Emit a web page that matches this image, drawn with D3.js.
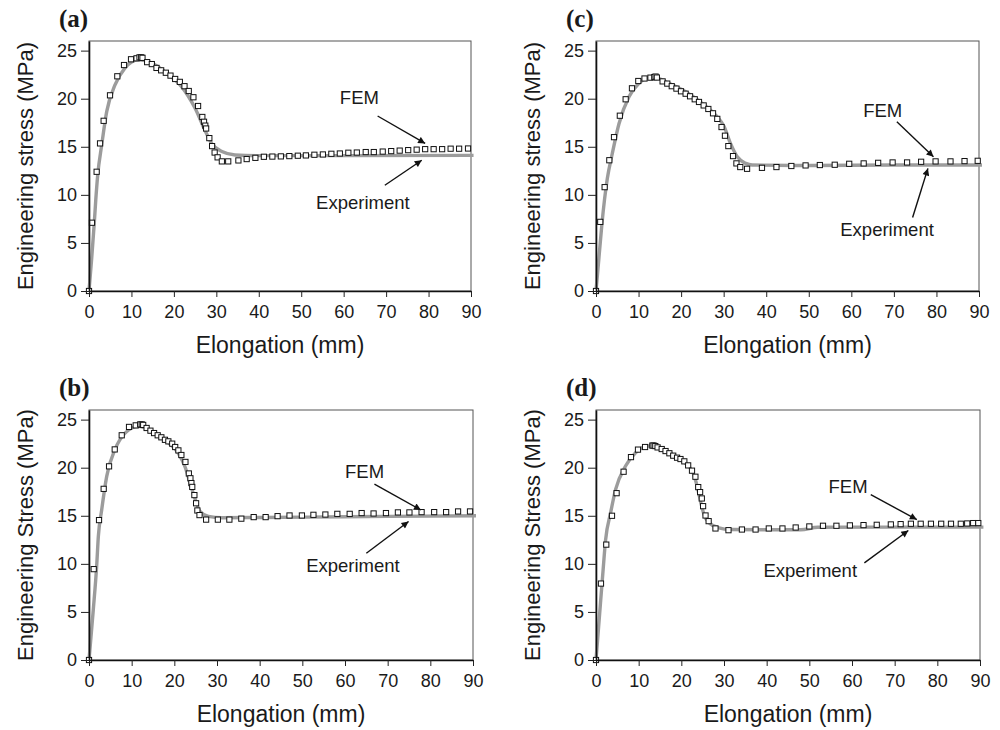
<!DOCTYPE html>
<html>
<head>
<meta charset="utf-8">
<script src="https://cdn.jsdelivr.net/npm/d3@7"></script>
<style>
  body { margin: 0; background: #fff; }
  svg { display: block; }
  text { fill: #1a1a1a; }
</style>
</head>
<body>
<script>
const width = 1000;
const height = 730;

const xTicks = [0, 10, 20, 30, 40, 50, 60, 70, 80, 90];
const yTicks = [0, 5, 10, 15, 20, 25];

// FEM = open squares, Experiment = grey curve  (elongation mm, stress MPa)
const femA = [[0,0],[0.7,7.1],[1.8,12.4],[2.6,15.35],[3.45,17.7],[4.95,20.35],[6.67,22.33],[8.25,23.5],[9.9,24.1],[11.2,24.2],[11.9,24.3],[12.3,24.3],[12.6,24.25],[13.7,23.8],[14.8,23.6],[15.9,23.2],[17.0,22.95],[18.1,22.7],[19.2,22.4],[20.3,22.05],[21.4,21.75],[22.5,21.3],[23.5,20.8],[24.6,20.15],[25.7,19.24],[26.7,18.1],[27.1,17.6],[27.4,17.2],[27.6,16.9],[28.35,15.9],[29.0,15.07],[29.6,14.4],[30.3,13.9],[31.3,13.48],[32.8,13.48],[35.2,13.58],[37.15,13.72],[39.2,13.85],[41.2,13.96],[43.2,13.98],[45.2,14.0],[47.2,14.03],[49.2,14.07],[51.1,14.1],[53.1,14.17],[55.1,14.2],[57.1,14.27],[59.1,14.3],[61.1,14.38],[63.1,14.4],[65.2,14.45],[67.1,14.45],[69.2,14.5],[71.2,14.55],[73.2,14.6],[75.2,14.65],[77.2,14.7],[79.2,14.75],[81.2,14.75],[83.2,14.75],[85.2,14.8],[87.2,14.8],[89.3,14.82]];
const expA = [[0,0],[0.6,3.2],[1.25,7.1],[1.6,9.5],[2.05,12.05],[3.0,15.2],[4.17,18.65],[6.1,21.4],[8.5,23.2],[11.6,24.05],[14.8,23.7],[18.7,22.5],[21.8,21.25],[25.0,19.0],[27.3,16.74],[28.9,15.35],[31.3,14.5],[34.4,14.15],[40,14.08],[60,14.08],[90.6,14.1]];

const femB = [[0,0],[1.1,9.45],[2.35,14.55],[3.44,17.8],[4.7,20.14],[6.03,21.9],[7.67,23.37],[9.38,24.24],[10.95,24.4],[12.0,24.5],[12.36,24.5],[12.7,24.45],[13.5,24.13],[14.4,23.85],[15.25,23.6],[16.1,23.37],[16.96,23.16],[17.8,22.9],[18.6,22.74],[19.5,22.5],[20.2,22.15],[20.95,21.8],[21.65,21.32],[22.6,20.6],[23.4,19.4],[23.77,18.9],[24.0,18.4],[24.2,18.0],[24.7,17.15],[25.1,16.3],[25.4,15.55],[25.9,15.07],[27.45,14.6],[30.2,14.6],[32.9,14.6],[35.7,14.7],[38.6,14.86],[41.4,14.86],[44.2,14.96],[47.0,15.03],[49.9,15.03],[52.6,15.1],[55.4,15.13],[58.2,15.2],[61.1,15.2],[63.9,15.28],[66.7,15.24],[69.6,15.28],[72.4,15.35],[75.1,15.35],[77.95,15.38],[80.9,15.38],[83.7,15.38],[86.5,15.45],[89.3,15.45]];
const expB = [[0,0],[1.0,5.2],[1.8,9.8],[2.19,12.85],[2.97,15.6],[4.15,19.1],[6.1,21.9],[8.45,23.6],[11.57,24.3],[14.7,23.8],[18.6,22.6],[20.95,21.5],[22.5,20.1],[23.7,18.4],[24.9,16.7],[26.0,15.45],[28.0,14.93],[31.1,14.8],[40,14.82],[60,14.9],[90.7,15.0]];

const femC = [[0,0],[1.0,7.19],[2.03,10.8],[3.13,13.6],[4.23,16.0],[5.6,18.23],[6.97,19.94],[8.45,21.08],[9.94,21.84],[11.4,22.1],[12.8,22.19],[13.7,22.25],[14.0,22.3],[14.3,22.2],[15.65,21.8],[16.75,21.57],[17.8,21.3],[18.9,21.05],[19.97,20.77],[21.06,20.52],[22.1,20.25],[23.2,19.94],[24.2,19.66],[25.3,19.3],[26.4,18.93],[27.5,18.48],[28.5,17.9],[29.5,17.05],[30.3,16.15],[31.1,15.07],[32.2,14.03],[33.0,13.27],[33.9,12.89],[35.5,12.71],[39.0,12.81],[42.4,12.89],[45.9,13.0],[49.25,13.06],[52.6,13.1],[56.1,13.13],[59.5,13.23],[62.9,13.27],[66.3,13.33],[69.7,13.37],[73.1,13.37],[76.4,13.44],[79.8,13.48],[83.3,13.48],[86.6,13.51],[89.7,13.54]];
const expC = [[0,0],[0.7,3.5],[1.4,7],[2.0,9.5],[2.66,11.7],[3.83,14.3],[5.4,17.4],[7.75,20.2],[10.1,21.6],[13.2,22.3],[17.15,21.6],[21.05,20.73],[25.0,19.5],[28.1,18.3],[30.1,17.1],[31.6,15.35],[33.2,13.96],[35.2,13.27],[36.7,13.1],[50,13.05],[70,13.1],[90.7,13.1]];

const femD = [[0,0],[1.17,7.95],[2.41,12.0],[3.75,15.0],[4.83,17.35],[6.47,19.58],[8.2,21.1],[9.84,21.88],[11.5,22.15],[13.2,22.3],[13.5,22.3],[13.9,22.25],[14.43,22.11],[15.4,21.94],[16.3,21.73],[17.2,21.5],[18.1,21.25],[19.0,21.04],[19.8,20.9],[20.7,20.66],[21.6,20.24],[22.5,19.69],[23.3,19.06],[23.96,17.98],[24.4,17.46],[24.8,16.8],[25.1,16.0],[25.67,15.03],[26.4,14.44],[28.0,13.68],[31.05,13.5],[34.2,13.57],[37.4,13.57],[40.5,13.68],[43.7,13.68],[46.8,13.78],[50.0,13.89],[53.2,13.96],[56.35,13.96],[59.5,14.0],[62.7,14.03],[65.8,14.06],[69.1,14.1],[71.4,14.13],[73.8,14.17],[76.1,14.17],[78.5,14.17],[80.9,14.17],[83.2,14.17],[85.5,14.17],[87.0,14.2],[88.4,14.24],[89.6,14.24]];
const expD = [[0,0],[0.8,4.5],[1.6,9],[2.25,12.5],[3.42,15.3],[4.6,17.74],[6.93,20.17],[9.27,21.56],[12.4,22.25],[16.3,21.73],[20.2,20.7],[22.55,19.65],[23.7,18.08],[24.5,16.5],[25.3,15.14],[26.5,14.27],[28.8,13.75],[31.5,13.57],[40,13.55],[48,13.55],[52,13.8],[70,13.82],[90.8,13.82]];

const panelTags = ["(a)", "(b)", "(c)", "(d)"];
const yTitles = ["Engineering stress (MPa)", "Engineering Stress (MPa)", "Engineering stress (MPa)", "Engineering Stress (MPa)"];
const xTitle = "Elongation (mm)";

const sans = "'Liberation Sans', Arial, sans-serif";
const serif = "'Liberation Serif', 'Times New Roman', serif";

// layout: plot box + where the labels / arrows sit (in data units)
const panels = [
  { tag: panelTags[0], yt: yTitles[0], fem: femA, exp: expA, left: 89, top: 41, w: 382, h: 250,
    femLabel: [59.1, 19.5], femArrow: [[68.0, 18.2], [79.2, 15.35]],
    expLabel: [53.5, 8.5], expArrow: [[69.7, 11.0], [78.4, 13.6]] },
  { tag: panelTags[1], yt: yTitles[1], fem: femB, exp: expB, left: 89, top: 410, w: 384, h: 250,
    femLabel: [60.0, 18.93], femArrow: [[66.9, 18.3], [77.8, 15.6]],
    expLabel: [50.9, 9.2], expArrow: [[65.0, 11.1], [74.9, 14.4]] },
  { tag: panelTags[2], yt: yTitles[2], fem: femC, exp: expC, left: 596, top: 41, w: 383, h: 250,
    femLabel: [62.8, 18.1], femArrow: [[70.7, 17.6], [79.3, 13.96]],
    expLabel: [57.4, 5.7], expArrow: [[74.4, 7.65], [78.0, 12.75]] },
  { tag: panelTags[3], yt: yTitles[3], fem: femD, exp: expD, left: 596, top: 410, w: 384, h: 250,
    femLabel: [54.5, 17.4], femArrow: [[64.4, 17.2], [75.2, 14.6]],
    expLabel: [39.25, 8.65], expArrow: [[62.9, 10.1], [73.2, 13.47]] }
];

const svg = d3.select(document.body).append("svg")
  .attr("width", width)
  .attr("height", height)
  .style("font-family", sans);

svg.append("defs").append("marker")
  .attr("id", "arrow")
  .attr("viewBox", "0 0 10 10")
  .attr("refX", 10).attr("refY", 5)
  .attr("markerWidth", 9).attr("markerHeight", 7)
  .attr("markerUnits", "userSpaceOnUse")
  .attr("orient", "auto")
  .append("path")
  .attr("d", "M0,0L10,5L0,10z")
  .attr("fill", "#111");

panels.forEach(p => {
  const x = d3.scaleLinear().domain([0, 90]).range([0, p.w]);
  const y = d3.scaleLinear().domain([0, 26]).range([p.h, 0]);

  const g = svg.append("g").attr("transform", `translate(${p.left},${p.top})`);

  // plot frame
  g.append("rect")
    .attr("width", p.w).attr("height", p.h)
    .attr("fill", "none")
    .attr("stroke", "#555")
    .attr("stroke-width", 1);

  // experiment curve
  g.append("path")
    .datum(p.exp)
    .attr("fill", "none")
    .attr("stroke", "#9c9c9c")
    .attr("stroke-width", 3.4)
    .attr("stroke-linejoin", "round")
    .attr("d", d3.line().x(d => x(d[0])).y(d => y(d[1])).curve(d3.curveMonotoneX));

  // FEM squares
  g.append("g").selectAll("rect")
    .data(p.fem)
    .join("rect")
    .attr("x", d => x(d[0]) - 2.6)
    .attr("y", d => y(d[1]) - 2.6)
    .attr("width", 5.2).attr("height", 5.2)
    .attr("fill", "#fff")
    .attr("stroke", "#111")
    .attr("stroke-width", 1);

  // axes
  const ax = g.append("g")
    .attr("transform", `translate(0,${p.h})`)
    .call(d3.axisBottom(x).tickValues(xTicks).tickSize(6).tickPadding(8).tickSizeOuter(0));
  const ay = g.append("g")
    .call(d3.axisLeft(y).tickValues(yTicks).tickSize(8).tickPadding(4).tickSizeOuter(0));
  [ax, ay].forEach(a => {
    a.attr("font-family", sans).attr("font-size", 18);
    a.select(".domain").attr("stroke", "#111").attr("stroke-width", 1.6);
    a.selectAll(".tick line").attr("stroke", "#222");
    a.selectAll(".tick text").attr("fill", "#1a1a1a");
  });

  // titles
  g.append("text")
    .attr("x", p.w / 2)
    .attr("y", p.h + 62)
    .attr("text-anchor", "middle")
    .attr("font-size", 23)
    .text(xTitle);

  g.append("text")
    .attr("transform", `translate(${-64},${p.h / 2}) rotate(-90)`)
    .attr("text-anchor", "middle")
    .attr("dy", "0.35em")
    .attr("font-size", 22)
    .text(p.yt);

  g.append("text")
    .attr("x", -30)
    .attr("y", -14)
    .style("font-family", serif)
    .style("font-weight", "bold")
    .attr("font-size", 25)
    .text(p.tag);

  // annotations
  g.append("text")
    .attr("x", x(p.femLabel[0])).attr("y", y(p.femLabel[1]))
    .attr("font-size", 18.5)
    .text("FEM");
  g.append("text")
    .attr("x", x(p.expLabel[0])).attr("y", y(p.expLabel[1]))
    .attr("font-size", 18.5)
    .text("Experiment");

  [p.femArrow, p.expArrow].forEach(a => {
    g.append("line")
      .attr("x1", x(a[0][0])).attr("y1", y(a[0][1]))
      .attr("x2", x(a[1][0])).attr("y2", y(a[1][1]))
      .attr("stroke", "#111")
      .attr("stroke-width", 1.4)
      .attr("marker-end", "url(#arrow)");
  });
});
</script>
</body>
</html>
